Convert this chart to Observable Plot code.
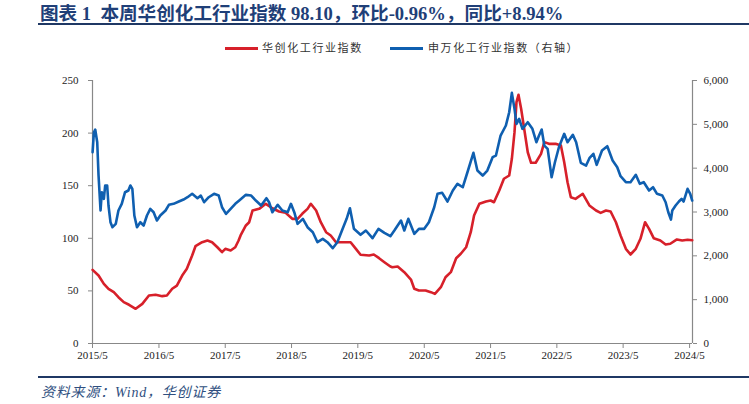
<!DOCTYPE html>
<html><head><meta charset="utf-8">
<script src="https://cdn.jsdelivr.net/npm/d3@7"></script>
<script src="https://cdn.jsdelivr.net/npm/@observablehq/plot@0.6"></script>
<style>
body{margin:0;background:#fff;}
#wrap{position:relative;width:749px;height:404px;overflow:hidden;background:#fff;}
#title{position:absolute;left:40px;top:-2px;font-family:"Liberation Serif","Noto Sans CJK SC",serif;font-size:18.6px;font-weight:bold;color:#1f3f78;white-space:pre;}
#rule1{position:absolute;left:38px;right:0;top:23px;height:2px;background:#1f3864;}
.lg{position:absolute;top:40px;font-family:"Noto Sans CJK SC",sans-serif;font-size:11px;color:#333;letter-spacing:1.6px;white-space:nowrap;line-height:14px;}
.sw{position:absolute;top:47px;height:3px;}
#chart{position:absolute;left:0;top:60px;}
#rule2{position:absolute;left:38px;right:0;top:376px;height:1.5px;background:#1f3864;}
#caption{position:absolute;left:41px;top:381px;font-family:"Liberation Serif","Noto Sans CJK SC",serif;font-size:14px;letter-spacing:0.8px;font-style:italic;color:#2f4f80;white-space:nowrap;}
</style></head>
<body>
<div id="wrap">
  <div id="title">图表 1  本周华创化工行业指数 98.10，环比-0.96%，同比+8.94%</div>
  <div id="rule1"></div>
  <div class="sw" style="left:225px;width:33px;background:#d7202a;"></div>
  <div class="lg" style="left:262px;">华创化工行业指数</div>
  <div class="sw" style="left:390px;width:33px;background:#0f5fb0;"></div>
  <div class="lg" style="left:428px;">申万化工行业指数（右轴）</div>
  <div id="chart"></div>
  <div id="rule2"></div>
  <div id="caption">资料来源：Wind，华创证券</div>
</div>
<script>
// 华创化工行业指数 (left axis)
const redT = [2015.33,2015.42,2015.50,2015.57,2015.65,2015.72,2015.80,2015.88,2015.98,2016.08,2016.18,2016.28,2016.38,2016.45,2016.53,2016.60,2016.68,2016.75,2016.83,2016.88,2016.98,2017.06,2017.13,2017.21,2017.28,2017.33,2017.41,2017.48,2017.53,2017.56,2017.64,2017.69,2017.74,2017.84,2017.94,2018.04,2018.14,2018.24,2018.34,2018.42,2018.49,2018.57,2018.62,2018.70,2018.77,2018.85,2018.92,2019.00,2019.10,2019.22,2019.30,2019.37,2019.50,2019.57,2019.65,2019.73,2019.82,2019.85,2019.93,2020.03,2020.13,2020.18,2020.25,2020.35,2020.43,2020.49,2020.58,2020.65,2020.73,2020.81,2020.88,2020.96,2021.03,2021.08,2021.16,2021.26,2021.33,2021.38,2021.46,2021.53,2021.61,2021.65,2021.69,2021.72,2021.75,2021.79,2021.84,2021.89,2021.94,2022.01,2022.09,2022.14,2022.21,2022.31,2022.39,2022.44,2022.49,2022.54,2022.61,2022.72,2022.82,2022.92,2022.99,2023.07,2023.14,2023.22,2023.29,2023.37,2023.44,2023.52,2023.59,2023.66,2023.72,2023.79,2023.89,2023.97,2024.04,2024.14,2024.22,2024.30,2024.37];
const redV = [70,64.6,56.7,52,48.8,44,39.3,36.8,33,37.7,45.6,46.3,45,45.6,52,55,64.6,71,83.7,92.5,96.3,97.9,96.3,91.5,86.8,90,88.4,91.5,97.9,102.7,112.2,115.3,126.4,128,132.8,128.6,125.5,124.2,118.5,118.5,123.3,128,132.8,126.4,115.3,105.8,102.7,96.3,96.3,96.3,90,84.3,83.7,84.6,81.1,77.3,73.2,72.5,73.2,67.8,60.8,52,50.4,50.4,48.8,47.2,53.5,63,67.8,81.1,85.3,91.5,105.8,121.7,132.8,135,135.9,134.3,145.4,156.6,159.7,175.6,200.9,229.4,236.4,223.1,202.5,181.8,171.8,171.8,180.3,191.4,189.8,189.8,188.2,172.3,153.3,139.1,137.5,142.3,131.2,126.4,124.2,126.4,125.5,115.3,102.7,90,84.6,90,99.5,115.3,109,100.1,97.9,94.1,94.8,98.9,97.9,98.6,98.1];
// 申万化工行业指数 (right axis)
const blueT = [2015.33,2015.35,2015.37,2015.40,2015.42,2015.45,2015.47,2015.50,2015.52,2015.55,2015.57,2015.60,2015.63,2015.68,2015.72,2015.77,2015.82,2015.87,2015.90,2015.93,2015.96,2016.00,2016.05,2016.10,2016.15,2016.20,2016.25,2016.30,2016.35,2016.43,2016.48,2016.55,2016.63,2016.70,2016.76,2016.83,2016.91,2016.96,2017.01,2017.08,2017.16,2017.23,2017.28,2017.34,2017.41,2017.48,2017.54,2017.64,2017.72,2017.79,2017.87,2017.95,2017.99,2018.04,2018.12,2018.19,2018.27,2018.32,2018.37,2018.42,2018.50,2018.57,2018.65,2018.72,2018.80,2018.87,2018.95,2019.02,2019.10,2019.16,2019.21,2019.27,2019.37,2019.45,2019.55,2019.64,2019.73,2019.82,2019.88,2019.98,2020.03,2020.09,2020.18,2020.25,2020.33,2020.40,2020.48,2020.53,2020.60,2020.68,2020.76,2020.83,2020.91,2020.98,2021.07,2021.13,2021.21,2021.28,2021.36,2021.41,2021.48,2021.56,2021.61,2021.65,2021.69,2021.72,2021.76,2021.81,2021.89,2021.96,2022.02,2022.06,2022.10,2022.14,2022.19,2022.25,2022.30,2022.36,2022.44,2022.49,2022.57,2022.62,2022.69,2022.77,2022.82,2022.88,2022.93,2023.01,2023.09,2023.17,2023.24,2023.29,2023.37,2023.44,2023.52,2023.58,2023.64,2023.72,2023.78,2023.84,2023.92,2023.97,2024.01,2024.05,2024.07,2024.12,2024.17,2024.21,2024.24,2024.30,2024.34,2024.37];
const blueV = [4364,4820,4881,4592,3832,3034,3451,3300,3604,3604,3148,2767,2653,2730,3034,3186,3451,3490,3604,3528,2920,2653,2767,2692,2920,3072,2995,2806,2920,3034,3164,3186,3239,3285,3337,3415,3314,3376,3223,3337,3415,3376,3109,2958,3072,3186,3262,3391,3376,3262,3148,3314,3223,2995,3164,3034,2995,3186,2995,2730,2844,2653,2539,2311,2388,2311,2174,2311,2616,2844,3086,2616,2479,2578,2402,2616,2525,2448,2578,2806,2578,2844,2502,2616,2616,2767,3109,3415,3437,3239,3490,3643,3565,3907,4350,3946,3832,3946,4250,4288,4744,4973,5276,5718,5353,5011,5125,4897,5048,4897,4592,4744,4881,4516,4441,3793,4135,4478,4783,4592,4760,4592,4122,4060,4227,4327,4076,4402,4500,4174,4022,3816,3680,3680,3848,3643,3680,3490,3565,3415,3376,3223,2995,2828,3034,3148,3239,3300,3239,3528,3415,3262];
const leftTicks = [0,50,100,150,200,250];
const rightTicks = [0,1000,2000,3000,4000,5000,6000];
const xTickYears = [2015,2016,2017,2018,2019,2020,2021,2022,2023,2024];

const toDate = t => { const y = Math.floor(t); const a = Date.UTC(y,0,1), b = Date.UTC(y+1,0,1); return new Date(a + (t - y) * (b - a)); };
const ratio = 250 / 6000;
const red = redT.map((t,i) => ({date: toDate(t), v: redV[i]}));
const blue = blueT.map((t,i) => ({date: toDate(t), v: blueV[i] * ratio}));
const x0 = new Date(Date.UTC(2015,4,1)), x1 = new Date(Date.UTC(2024,4,17));

const chart = Plot.plot({
  width: 749, height: 310,
  marginLeft: 92, marginRight: 57, marginTop: 20, marginBottom: 27,
  style: {fontFamily: "Liberation Serif, serif", fontSize: "11px", color: "#222", background: "#fff"},
  x: {type: "utc", domain: [x0, x1]},
  y: {domain: [0, 250]},
  marks: [
    Plot.axisY(leftTicks, {anchor: "left", tickSize: 4, tickPadding: 10, stroke: "#888", fill: "#222", label: null}),
    Plot.axisY(rightTicks.map(v => v * ratio), {anchor: "right", tickSize: 4, tickPadding: 7, stroke: "#888", fill: "#222", label: null, tickFormat: d => d3.format(",")(Math.round(d / ratio))}),
    Plot.axisX(xTickYears.map(y => new Date(Date.UTC(y,4,1))), {tickSize: 5, tickPadding: 3, stroke: "#888", fill: "#222", label: null, tickFormat: d => `${d.getUTCFullYear()}/5`}),
    Plot.ruleX([x0], {stroke: "#888", strokeWidth: 1.2}),
    Plot.ruleX([x1], {stroke: "#888", strokeWidth: 1.2}),
    Plot.ruleY([0], {stroke: "#888", strokeWidth: 1.2}),
    Plot.line(red, {x: "date", y: "v", stroke: "#d7202a", strokeWidth: 2.6}),
    Plot.line(blue, {x: "date", y: "v", stroke: "#0f5fb0", strokeWidth: 2.6})
  ]
});
document.getElementById("chart").appendChild(chart);
</script>
</body></html>
